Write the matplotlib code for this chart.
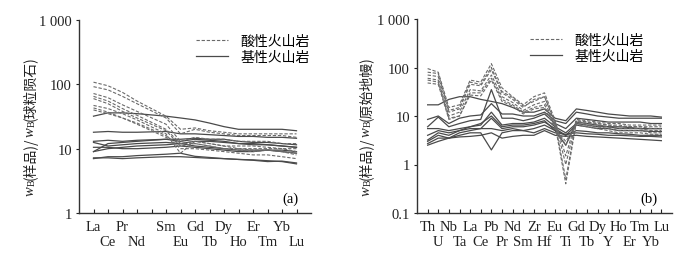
import matplotlib
matplotlib.use("Agg")
import matplotlib.pyplot as plt
from matplotlib.lines import Line2D
import numpy as np

plt.rcParams['font.family'] = ['Liberation Serif', 'Noto Sans CJK SC', 'DejaVu Sans']

# ---------------- Panel (a): REE, chondrite-normalized ----------------
ree_elements = ["La", "Ce", "Pr", "Nd", "", "Sm", "Eu", "Gd", "Tb", "Dy", "Ho", "Er", "Tm", "Yb", "Lu"]
ree_present = [0, 1, 2, 3, 5, 6, 7, 8, 9, 10, 11, 12, 13, 14]   # Pm (index 4) not plotted

ree_acid = [
    [108, 95, 75, 55, 32, 20, 21, 19, 18, 17, 17, 17, 17, 17],
    [92, 82, 65, 50, 30, 17, 20, 18, 17, 16, 16, 16, 16, 15],
    [72, 62, 48, 38, 24, 13, 15, 14, 14, 13, 13, 13, 12, 12],
    [65, 55, 42, 33, 20, 12, 13, 12, 11, 10, 10, 10, 10, 9],
    [60, 50, 38, 30, 19, 11, 12, 11, 10, 9.5, 9, 9.5, 9, 8.5],
    [47, 42, 35, 28, 17, 8.5, 13, 12, 11, 11, 11, 10.5, 10, 10],
    [43, 37, 30, 25, 16, 10, 10, 9.5, 9, 8.5, 8, 8, 7.5, 7],
    [40, 35, 30, 24, 15, 12, 12, 11, 10, 10, 9.5, 9.5, 9, 8],
]
ree_basic = [
    [32, 36, 36, 35, 32, 30, 28, 25, 22, 20, 20, 20, 20, 19],
    [18, 18.5, 18, 18, 18.5, 17, 17, 16.5, 16, 15.5, 15.5, 15, 15, 14.5],
    [13, 13.5, 13, 13.5, 14, 14, 14.5, 14, 14, 13, 12.5, 12.5, 12, 11.5],
    [12.5, 11, 11.5, 12, 12.5, 12, 13, 13, 12.5, 12, 12, 11.5, 11, 10.5],
    [9, 12, 12.5, 13, 14, 13, 14, 13.5, 13, 12, 11.5, 11.5, 11, 10.5],
    [9, 10, 10.5, 11, 11.5, 12, 11, 10.5, 10, 9.5, 9.5, 9.5, 9, 8.5],
    [10.5, 10.5, 10, 10, 10.5, 11, 10.5, 10, 9.5, 9, 9, 9.5, 9.5, 9],
    [7.2, 7.2, 7.0, 7.2, 7.5, 7.5, 7.3, 7.1, 7.0, 6.8, 6.6, 6.3, 6.4, 6.0],
    [7.0, 7.5, 7.5, 7.8, 8.2, 8.5, 7.6, 7.3, 7.0, 6.8, 6.7, 6.5, 6.3, 5.8],
]
ree_yticks = [1, 10, 100, 1000]
ree_yticklabels = ["1", "10", "100", "1 000"]

# ---------------- Panel (b): trace elements, primitive-mantle-normalized ----------------
spider_elements = ["Th", "U", "Nb", "Ta", "La", "Ce", "Pb", "Pr", "Nd", "Sm", "Zr", "Hf",
                   "Eu", "Ti", "Gd", "Tb", "Dy", "Y", "Ho", "Er", "Tm", "Yb", "Lu"]
spider_acid = [
    [95, 80, 15, 17, 55, 50, 120, 38, 25, 17, 25, 30, 8, 1.5, 8.5, 8, 7.5, 7, 7, 6.5, 6.5, 6.5, 6.5],
    [80, 75, 13, 15, 50, 45, 100, 32, 24, 16, 20, 25, 7.5, 1.0, 8, 7.5, 7, 6.5, 6.5, 6, 6, 6, 6],
    [70, 65, 12, 14, 45, 42, 90, 30, 22, 15, 22, 25, 7, 0.5, 8, 7.5, 7, 6.5, 6, 6, 6, 5.5, 5.5],
    [60, 55, 10, 12, 35, 33, 70, 25, 19, 13, 17, 20, 6.5, 0.4, 7.5, 7, 6.5, 6, 5.5, 5.5, 5.5, 5, 5],
    [55, 50, 9, 10, 30, 30, 60, 22, 17, 12, 15, 17, 6, 2.5, 7, 6.5, 6, 5.5, 5, 5, 5, 4.5, 4.5],
    [48, 45, 8.5, 10, 27, 26, 55, 20, 16, 11, 14, 15, 5.5, 3, 6.5, 6, 5.5, 5, 4.5, 4.5, 4.5, 4.2, 4.2],
]
spider_basic = [
    [17, 17, 22, 25, 25, 22, 20, 18, 15, 12, 12, 14, 9, 8, 14, 13, 12, 11, 10.5, 10, 10, 10, 9.5],
    [8.5, 10, 7, 9, 10, 10.5, 18, 11, 11, 10, 10, 12, 8, 7, 12, 11, 10, 9.5, 9, 9, 9, 9, 9],
    [6, 9.5, 6, 7, 8, 8.5, 35, 9, 9, 8, 9, 11, 7, 5.5, 9, 8.5, 8, 7.5, 7.5, 7.5, 7.5, 7, 7],
    [5.5, 5.5, 5, 5.5, 6, 6.5, 12, 6.5, 7, 7, 7.5, 9, 6, 4.5, 7, 6.5, 6, 6, 5.5, 5.5, 5.5, 5.5, 5.5],
    [4, 5, 4.5, 5, 5.5, 5.5, 9, 5.5, 6, 6, 6.5, 7.5, 5.5, 4, 6.5, 6, 5.5, 5.5, 5, 5, 5, 4.8, 4.8],
    [3, 4, 3.5, 4, 4.5, 4.5, 2, 4.5, 5, 5, 5.5, 6.5, 5, 4, 5, 4.8, 4.5, 4.5, 4.3, 4.2, 4, 4, 4],
    [2.5, 3, 3.5, 3.7, 3.8, 4, 4.5, 3.5, 3.8, 4, 4, 5, 4, 3.8, 4, 3.8, 3.7, 3.6, 3.5, 3.4, 3.3, 3.2, 3.1],
    [3.2, 4.5, 4, 5, 6, 7, 10, 6, 6.5, 6.5, 7, 8, 5, 2.5, 7.5, 7, 6.5, 6, 6, 5.8, 5.5, 5.5, 5.5],
    [2.7, 3.5, 3.5, 4.5, 5, 5.5, 5.5, 5, 5.5, 5, 4.5, 5.5, 4.5, 4.2, 4.5, 4.3, 4.2, 4, 4, 3.9, 3.8, 3.8, 3.7],
]
spider_yticks = [0.1, 1, 10, 100, 1000]
spider_yticklabels = ["0.1", "1", "10", "100", "1 000"]

legend_labels = ["酸性火山岩", "基性火山岩"]
ylabel_a = ["(样品)/", "(球粒陨石)"]
ylabel_b = ["(样品)/", "(原始地幔)"]

W, H = 698, 255
fig = plt.figure(figsize=(W / 100, H / 100), dpi=100)
axA = fig.add_axes([79 / W, 1 - 214 / H, (311 - 79) / W, (214 - 21) / H])
axB = fig.add_axes([417 / W, 1 - 214 / H, (672 - 417) / W, (214 - 20) / H])

acid_style = dict(color="#6a6a6a", lw=0.8, ls=(0, (3, 1.6)))
basic_style = dict(color="#4a4a4a", lw=0.9, ls="-")

for row in ree_basic:
    axA.plot(ree_present, row, **basic_style)
for row in ree_acid:
    axA.plot(ree_present, row, **acid_style)

sx = list(range(len(spider_elements)))
for row in spider_basic:
    axB.plot(sx, row, **basic_style)
for row in spider_acid:
    axB.plot(sx, row, **acid_style)


def style_axis(ax, names, yticks, ylabels, ylim, tag, leg_x, is_ree):
    ax.set_yscale("log")
    ax.set_ylim(*ylim)
    n = len(names)
    ax.set_xlim(-1, n)
    for s in ["top", "right"]:
        ax.spines[s].set_visible(False)
    for s in ["left", "bottom"]:
        ax.spines[s].set_linewidth(1.0)
        ax.spines[s].set_color("#333333")
    ax.set_yticks(yticks)
    ax.set_yticklabels(ylabels, fontsize=10.5)
    ax.yaxis.set_minor_locator(matplotlib.ticker.NullLocator())
    ax.tick_params(axis="y", direction="out", length=2.5, width=0.8, pad=2.5, colors="#222222")
    if is_ree:
        row1 = [0, 2, 5, 7, 9, 11, 13]
        row2 = [1, 3, 6, 8, 10, 12, 14]
        extra = [4]
    else:
        row1 = list(range(0, n, 2))
        row2 = list(range(1, n, 2))
        extra = []
    ax.set_xticks(row1)
    ax.set_xticklabels([names[i] for i in row1], fontsize=10.5)
    ax.set_xticks(row2 + extra, minor=True)
    ax.set_xticklabels([names[i] for i in row2] + [""] * len(extra), minor=True, fontsize=10.5)
    ax.tick_params(axis="x", which="major", direction="in", length=3, width=0.8, pad=5, colors="#222222")
    ax.tick_params(axis="x", which="minor", direction="in", length=3, width=0.8, pad=15.5, colors="#222222")
    ax.text(0.91, 0.075, tag, transform=ax.transAxes, fontsize=10.5, ha="center", va="center")
    handles = [Line2D([], [], **acid_style), Line2D([], [], **basic_style)]
    ax.legend(handles, legend_labels, loc="upper right", bbox_to_anchor=(leg_x, 0.995),
              frameon=False, handlelength=2.3, handletextpad=0.9, labelspacing=0.15,
              prop={"family": ["Noto Sans CJK SC"], "size": 10})


style_axis(axA, ree_elements, ree_yticks, ree_yticklabels, (1, 1000), "(a)", 1.05, True)
style_axis(axB, spider_elements, spider_yticks, spider_yticklabels, (0.1, 1000), "(b)", 0.94, False)

renderer = fig.canvas.get_renderer()


def vertical_label(xc, yc, parts):
    """Draw a rotated label made of pieces: w (italic), subscript B, CJK text."""
    pieces = [("w", dict(fontsize=10.5, style="italic", family="Liberation Serif"), 0),
              ("B", dict(fontsize=7, family="Liberation Serif"), 2.5),
              (parts[0], dict(fontsize=10, family=["Noto Sans CJK SC"]), 0),
              ("w", dict(fontsize=10.5, style="italic", family="Liberation Serif"), 0),
              ("B", dict(fontsize=7, family="Liberation Serif"), 2.5),
              (parts[1], dict(fontsize=10, family=["Noto Sans CJK SC"]), 0)]
    objs = []
    for s, kw, dx in pieces:
        t = fig.text(0, 0, s, rotation=90, ha="center", va="bottom", color="#222222", **kw)
        ext = t.get_window_extent(renderer)
        objs.append((t, ext.height, dx))
    total = sum(h for _, h, _ in objs)
    y = yc - total / 2
    for t, h, dx in objs:
        t.set_position(((xc + dx) / W, y / H))
        y += h


vertical_label(30, H - 126, ylabel_a)
vertical_label(366, H - 126, ylabel_b)

fig.savefig("out.png", dpi=100)
